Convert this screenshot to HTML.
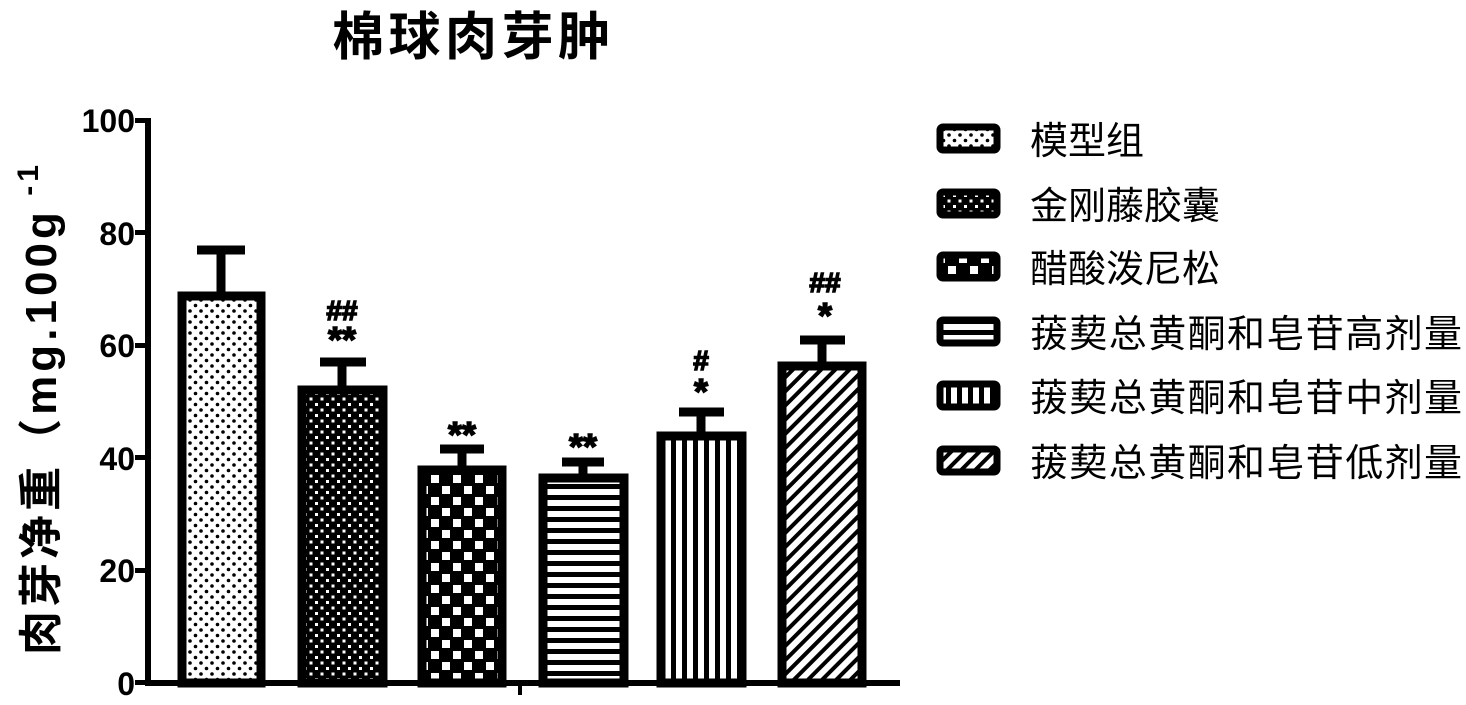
<!DOCTYPE html>
<html><head><meta charset="utf-8"><style>
html,body{margin:0;padding:0;background:#fff;width:1466px;height:705px;overflow:hidden}
text{font-family:"Liberation Sans","Noto Sans CJK SC",sans-serif;font-weight:bold;fill:#000}
</style></head><body>
<svg width="1466" height="705" viewBox="0 0 1466 705" xmlns="http://www.w3.org/2000/svg">
<defs>
<pattern id="p1" width="11" height="11" patternUnits="userSpaceOnUse"><rect width="11" height="11" fill="#fff"/><circle cx="3" cy="3" r="1.8" fill="#000"/><circle cx="8.5" cy="8.5" r="1.8" fill="#000"/></pattern>
<pattern id="p2" width="11" height="11" patternUnits="userSpaceOnUse"><rect width="11" height="11" fill="#000"/><rect x="1.5" y="1.5" width="3" height="3" fill="#fff"/><rect x="7" y="7" width="3" height="3" fill="#fff"/></pattern>
<pattern id="p3" width="22" height="22" patternUnits="userSpaceOnUse"><rect width="22" height="22" fill="#000"/><rect x="2" y="2" width="8" height="8" fill="#fff"/><rect x="13" y="13" width="8" height="8" fill="#fff"/></pattern>
<pattern id="p4" width="11" height="11" patternUnits="userSpaceOnUse"><rect width="11" height="11" fill="#fff"/><rect y="0" width="11" height="5" fill="#000"/></pattern>
<pattern id="p5" width="11" height="11" patternUnits="userSpaceOnUse"><rect width="11" height="11" fill="#fff"/><rect x="0" width="5" height="11" fill="#000"/></pattern>
<pattern id="p6" width="10" height="10" patternUnits="userSpaceOnUse" patternTransform="rotate(45)"><rect width="10" height="10" fill="#fff"/><rect width="4" height="10" fill="#000"/></pattern>
</defs>
<text x="332" y="55" font-size="52" textLength="278" lengthAdjust="spacing">棉球肉芽肿</text>
<!-- axes -->
<rect x="145" y="118" width="6" height="568" fill="#000"/>
<rect x="145" y="680" width="755" height="6" fill="#000"/>
<rect x="518" y="683" width="4" height="12" fill="#000"/>
<g fill="#000">
<rect x="135" y="118" width="12" height="5"/><rect x="135" y="230" width="12" height="5"/><rect x="135" y="343" width="12" height="5"/><rect x="135" y="455" width="12" height="5"/><rect x="135" y="568" width="12" height="5"/><rect x="135" y="680" width="12" height="5"/>
</g>
<g font-size="32" text-anchor="end">
<text x="135" y="132">100</text><text x="135" y="245">80</text><text x="135" y="357">60</text><text x="135" y="470">40</text><text x="135" y="582">20</text><text x="135" y="695">0</text>
</g>
<text transform="translate(56,655) rotate(-90)" font-size="44" textLength="490" lengthAdjust="spacing">肉芽净重（mg.100g<tspan font-size="30" dy="-18"> -1</tspan></text>
<!-- bars -->
<g stroke="#000" stroke-width="9">
<line x1="221" y1="250" x2="221" y2="295"/><line x1="197" y1="250" x2="245" y2="250"/>
<line x1="342" y1="362" x2="342" y2="388"/><line x1="320" y1="362" x2="366" y2="362"/>
<line x1="462" y1="449" x2="462" y2="468"/><line x1="440" y1="449" x2="484" y2="449"/>
<line x1="583" y1="462" x2="583" y2="476"/><line x1="562" y1="462" x2="604" y2="462"/>
<line x1="701" y1="412" x2="701" y2="434"/><line x1="679" y1="412" x2="724" y2="412"/>
<line x1="822" y1="340" x2="822" y2="364"/><line x1="800" y1="340" x2="845" y2="340"/>
</g>
<g stroke="#000" stroke-width="9">
<rect x="182" y="296" width="79" height="387" fill="url(#p1)"/>
<rect x="302" y="390" width="81" height="293" fill="url(#p2)"/>
<rect x="422" y="470" width="80" height="213" fill="url(#p3)"/>
<rect x="543" y="478" width="81" height="205" fill="url(#p4)"/>
<rect x="661" y="436" width="81" height="247" fill="url(#p5)"/>
<rect x="782" y="366" width="80" height="317" fill="url(#p6)"/>
</g>
<g text-anchor="middle" stroke="#000" stroke-width="1.5">
<text x="342" y="320" font-size="28">##</text><text x="342" y="352" font-size="36">**</text>
<text x="462" y="447" font-size="36">**</text>
<text x="583" y="459" font-size="36">**</text>
<text x="701" y="370" font-size="28">#</text><text x="701" y="404" font-size="36">*</text>
<text x="825" y="292" font-size="28">##</text><text x="825" y="328" font-size="36">*</text>
</g>
<!-- legend -->
<g stroke="#000" stroke-width="7">
<rect x="940" y="127" width="57" height="23" rx="3" fill="url(#p1)"/>
<rect x="940" y="192" width="57" height="23" rx="3" fill="url(#p2)"/>
<rect x="940" y="255" width="57" height="23" rx="3" fill="url(#p3)"/>
<rect x="940" y="320" width="57" height="23" rx="3" fill="url(#p4)"/>
<rect x="940" y="384" width="57" height="23" rx="3" fill="url(#p5)"/>
<rect x="940" y="449" width="57" height="23" rx="3" fill="url(#p6)"/>
</g>
<g font-size="38">
<text x="1030" y="154" style="font-weight:normal">模型组</text>
<text x="1030" y="219" style="font-weight:normal">金刚藤胶囊</text>
<text x="1030" y="282" style="font-weight:normal">醋酸泼尼松</text>
<text x="1030" y="347" style="font-weight:normal" textLength="432" lengthAdjust="spacing">菝葜总黄酮和皂苷高剂量</text>
<text x="1030" y="411" style="font-weight:normal" textLength="432" lengthAdjust="spacing">菝葜总黄酮和皂苷中剂量</text>
<text x="1030" y="476" style="font-weight:normal" textLength="432" lengthAdjust="spacing">菝葜总黄酮和皂苷低剂量</text>
</g>
</svg>
</body></html>
